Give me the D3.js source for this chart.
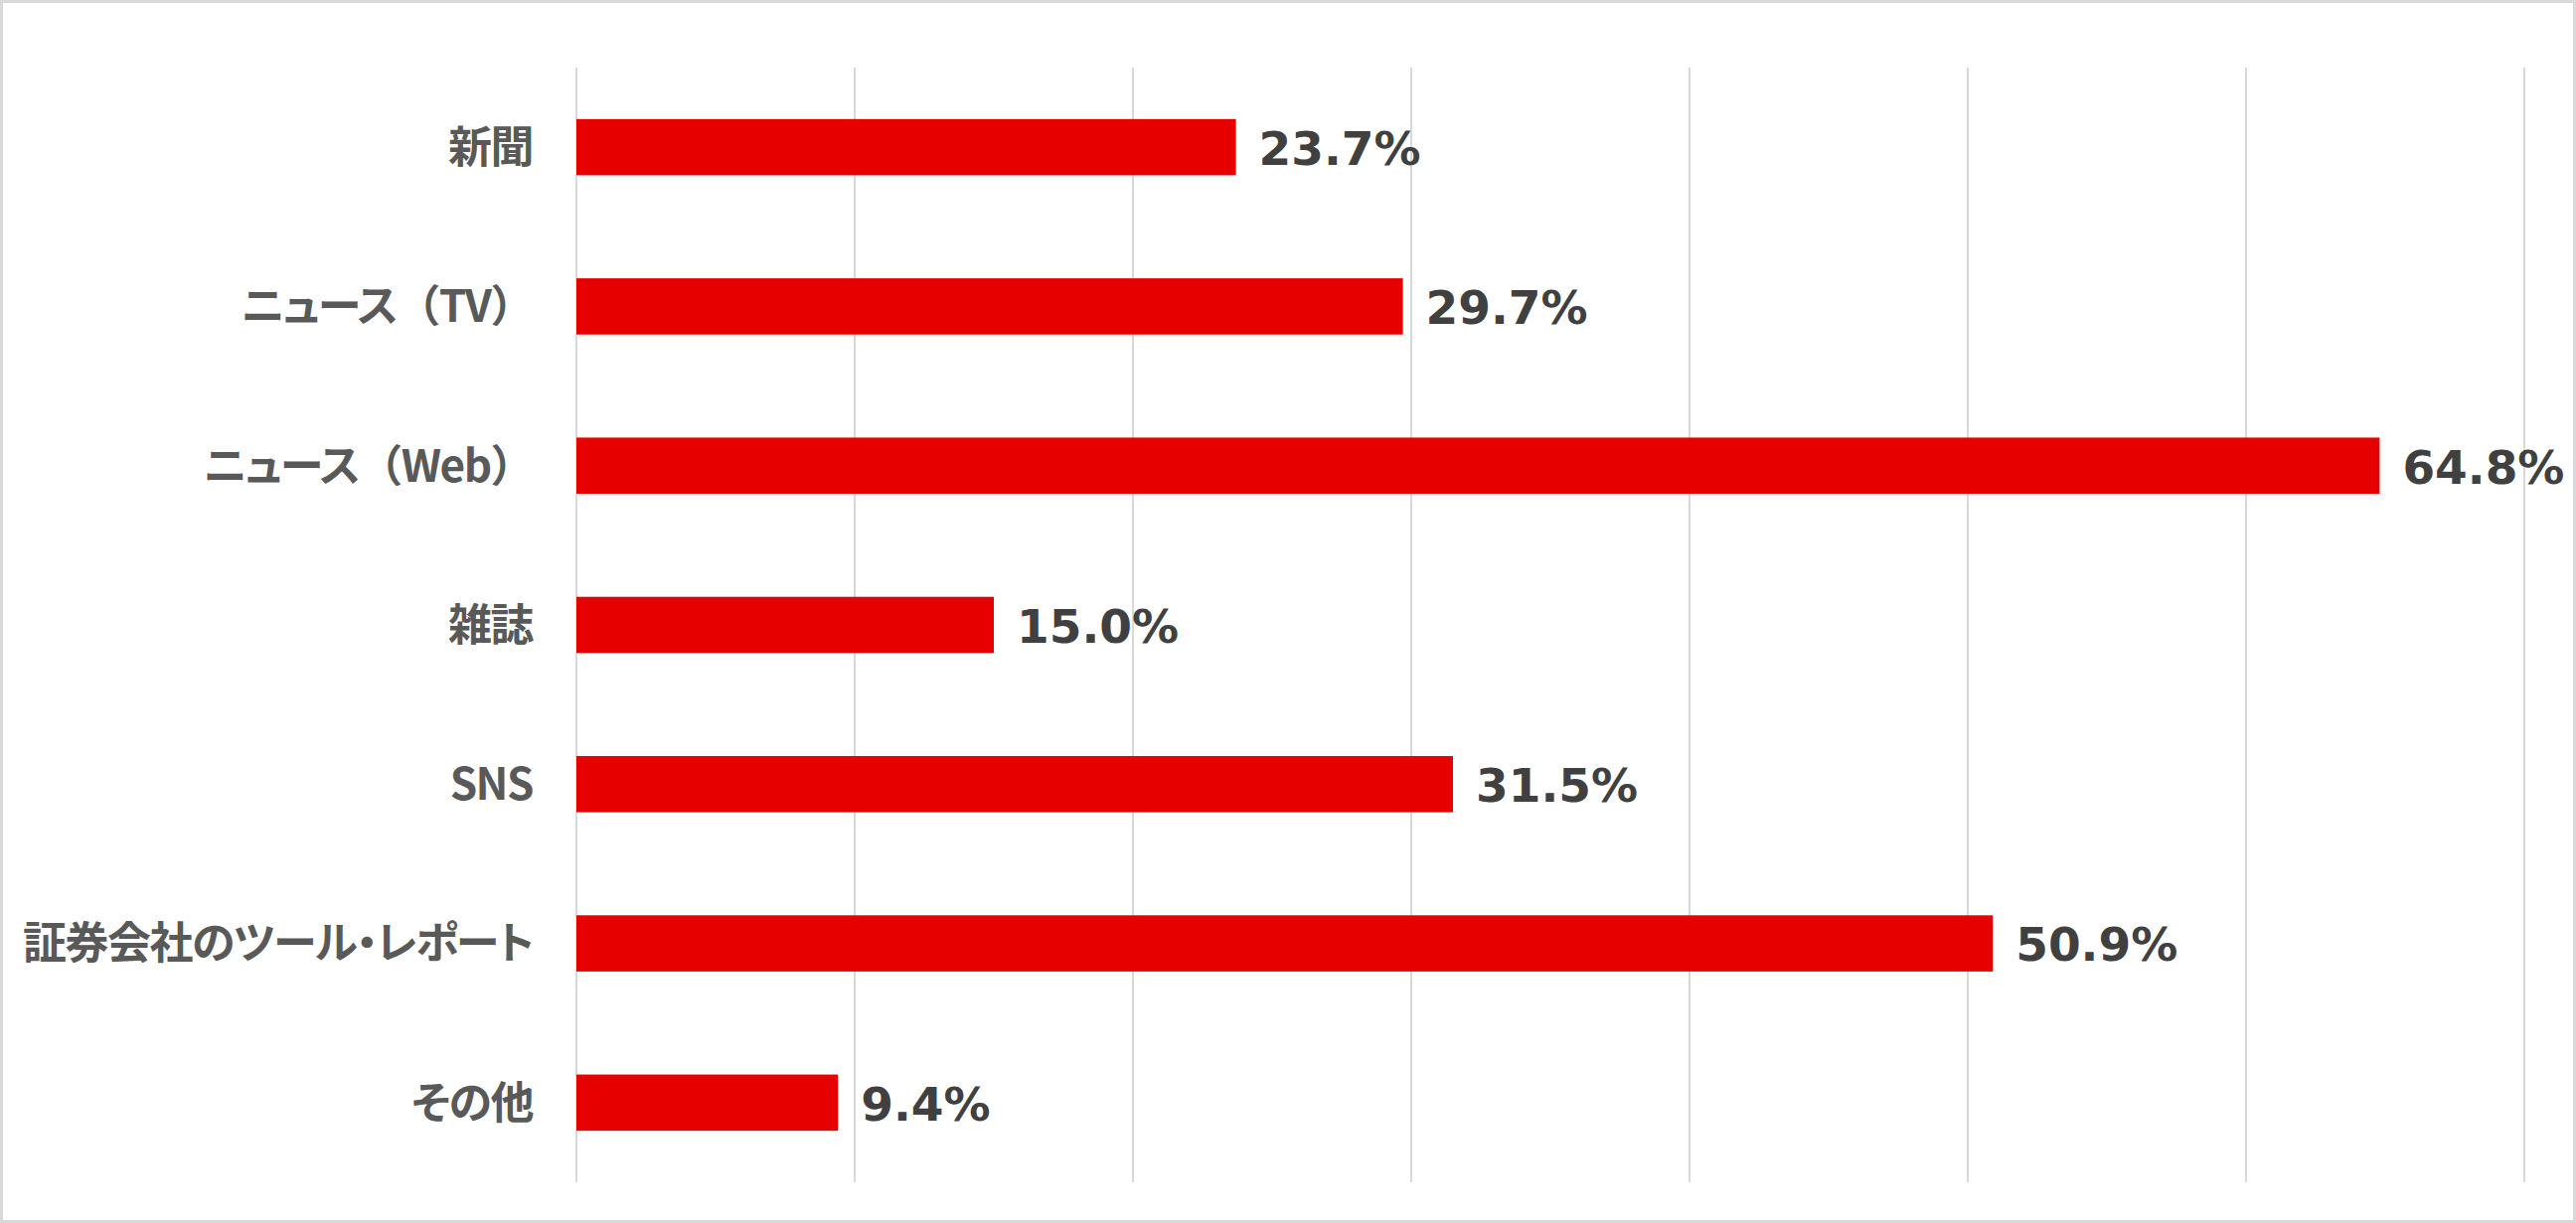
<!DOCTYPE html>
<html><head><meta charset="utf-8">
<script src="https://cdn.jsdelivr.net/npm/d3@7"></script>
<style>
html,body{margin:0;padding:0;background:#fff;}
svg{display:block;}
.cat{font-family:"Noto Sans CJK JP","Noto Sans CJK SC",sans-serif;font-weight:700;font-feature-settings:"palt";letter-spacing:-1.5px;}
.cat .fw{font-feature-settings:normal;}
.val{font-family:"DejaVu Sans",Verdana,sans-serif;font-weight:700;}
</style></head>
<body>
<script>
const categories = ["新聞","ニュース（TV）","ニュース（Web）","雑誌","SNS","証券会社のツール・レポート","その他"];
const values = [23.7, 29.7, 64.8, 15.0, 31.5, 50.9, 9.4];
const xTicks = [0,10,20,30,40,50,60,70];

const W = 2592, H = 1231;
const svg = d3.select("body").append("svg").attr("width", W).attr("height", H);

svg.append("rect").attr("x",1.5).attr("y",1.5).attr("width",W-3).attr("height",H-3)
  .attr("fill","#fff").attr("stroke","#d9d9d9").attr("stroke-width",3);

const x = d3.scaleLinear().domain([0,70]).range([580,2540]);
const y = d3.scaleBand().domain(categories).range([68,1190]).paddingInner(0.647).paddingOuter(0.3235);

svg.append("g").selectAll("line").data(xTicks).join("line")
  .attr("x1",d=>x(d)).attr("x2",d=>x(d)).attr("y1",68).attr("y2",1190)
  .attr("stroke","#d9d9d9").attr("stroke-width",2);

svg.append("g").selectAll("rect").data(values).join("rect")
  .attr("x",x(0)).attr("y",(d,i)=>y(categories[i]))
  .attr("width",d=>x(d)-x(0)).attr("height",y.bandwidth())
  .attr("fill","#e60000");

const fsC = 44, fsV = 47;
const catText = svg.append("g").selectAll("text").data(categories).join("text")
  .attr("class","cat").attr("x",536)
  .attr("y",d=>y(d)+y.bandwidth()/2 + fsC*0.36)
  .attr("text-anchor","end").attr("font-size",fsC).attr("fill","#595959");
catText.each(function(d){
  const t = d3.select(this);
  d.split(/([（）])/).filter(s=>s.length).forEach(s=>{
    t.append("tspan").attr("class", /[（）]/.test(s) ? "fw" : null).text(s);
  });
});

svg.append("g").selectAll("text").data(values).join("text")
  .attr("class","val").attr("x",d=>x(d)+23)
  .attr("y",(d,i)=>y(categories[i])+y.bandwidth()/2 + fsV*0.38)
  .attr("font-size",fsV).attr("fill","#404040")
  .text(d=>d.toFixed(1)+"%");
</script>
</body></html>
